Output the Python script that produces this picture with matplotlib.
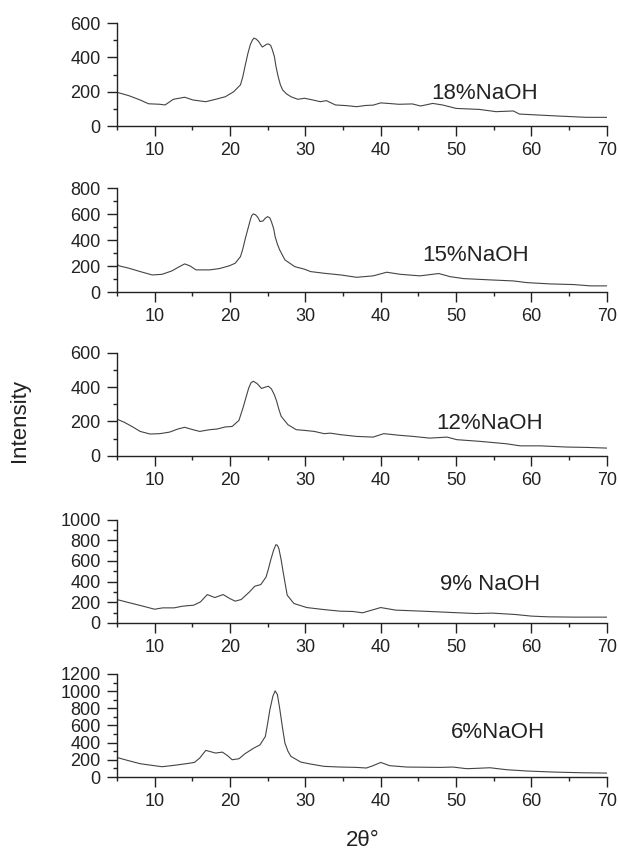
import numpy as np
import matplotlib
matplotlib.use('Agg')
import matplotlib.pyplot as plt
from matplotlib.ticker import MultipleLocator

plt.rcParams['font.family'] = ['Liberation Sans', 'DejaVu Sans']

# XRD patterns (2theta vs intensity), one per NaOH concentration
x18 = [5, 6.6, 8.1, 9.2, 10.7, 11.4, 12.5, 14.0, 15.1, 16.8, 18.1, 19.4, 20.5, 21.4, 21.7, 22.0,
       22.4, 22.7, 23.0, 23.2, 23.5, 23.8, 24.3, 24.9, 25.1, 25.4, 25.6, 25.9, 26.1, 26.4, 26.7,
       27.0, 27.5, 28.1, 29.0, 29.9, 31.0, 32.0, 32.8, 34.0, 35.5, 36.8, 38.0, 39.0, 40.0, 41.0,
       42.4, 44.2, 45.3, 46.9, 48.2, 50.0, 53.1, 55.3, 57.6, 58.4, 61.1, 63.8, 67.3, 70]
y18 = [197, 177, 152, 130, 127, 123, 156, 168, 152, 142, 156, 171, 200, 240, 285, 347,
       425, 473, 502, 512, 506, 493, 460, 477, 478, 470, 448, 405, 350, 288, 240,
       210, 188, 171, 156, 162, 152, 142, 148, 123, 119, 113, 120, 122, 135, 132,
       127, 129, 117, 132, 123, 103, 97, 84, 88, 70, 64, 58, 51, 51]

x15 = [5, 5.3, 6.6, 8.1, 9.7, 11.0, 12.3, 13.3, 14.0, 14.7, 15.5, 17.3, 18.6, 19.9, 20.7, 21.4,
       21.7, 22.0, 22.4, 22.7, 22.9, 23.1, 23.4, 23.7, 24.0, 24.4, 24.7, 25.0, 25.3, 25.5, 25.8,
       26.0, 26.3, 26.6, 27.3, 28.6, 29.9, 30.7, 32.5, 34.7, 36.8, 39.0, 40.8, 42.6, 45.2, 47.7,
       49.2, 51.0, 54.5, 57.6, 59.4, 62.5, 65.6, 67.8, 70]
y15 = [218, 203, 185, 159, 133, 138, 164, 197, 218, 203, 172, 172, 182, 203, 223, 274,
       330, 403, 490, 556, 590, 603, 596, 577, 544, 549, 570, 582, 572, 544, 490,
       428, 370, 326, 249, 197, 177, 159, 146, 133, 115, 126, 154, 138, 126, 144,
       120, 105, 95, 87, 74, 64, 59, 49, 49]

x12 = [5, 6.0, 7.0, 8.1, 9.4, 10.7, 12.0, 13.1, 14.0, 15.1, 16.0, 17.3, 18.3, 19.4, 20.3, 21.2,
       21.8, 22.2, 22.5, 22.8, 23.1, 23.6, 24.2, 24.7, 25.1, 25.5, 25.9, 26.2, 26.5, 26.8, 27.7,
       28.8, 29.9, 31.2, 32.5, 33.3, 34.7, 36.8, 39.0, 40.4, 42.6, 44.3, 46.5, 48.8, 50.1, 53.2,
       56.7, 58.5, 61.2, 64.7, 67.3, 70]
y12 = [214, 195, 171, 142, 127, 129, 138, 156, 166, 152, 142, 152, 156, 168, 171, 206,
       288, 350, 395, 425, 434, 421, 392, 400, 405, 390, 355, 318, 270, 230, 181,
       152, 148, 142, 129, 132, 123, 113, 109, 129, 119, 113, 103, 109, 94, 84,
       70, 58, 58, 51, 49, 45]

x9 = [5, 6.7, 8.5, 10.0, 11.1, 12.6, 13.7, 15.2, 16.1, 17.0, 18.0, 19.1, 20.0, 20.7, 21.5, 22.6,
      23.3, 24.1, 24.8, 25.1, 25.4, 25.8, 26.1, 26.3, 26.5, 26.8, 27.1, 27.6, 28.5, 30.2, 32.4,
      34.6, 36.3, 37.6, 40.0, 42.0, 45.5, 50.4, 52.6, 54.8, 57.8, 60.0, 62.2, 65.8, 70]
y9 = [226, 194, 161, 132, 145, 145, 161, 171, 203, 274, 245, 274, 235, 210, 226, 300,
      355, 371, 445, 520, 606, 705, 758, 752, 719, 610, 477, 268, 187, 148, 129,
      113, 110, 97, 148, 123, 113, 97, 90, 94, 81, 65, 58, 55, 55]

x6 = [5, 6.4, 8.1, 9.4, 11.0, 12.5, 14.2, 15.3, 16.0, 16.8, 18.1, 19.0, 19.7, 20.3, 21.2, 22.0,
      23.1, 24.0, 24.7, 25.0, 25.3, 25.7, 26.0, 26.3, 26.6, 27.0, 27.3, 27.7, 28.1, 29.4, 30.7,
      32.5, 34.7, 36.8, 38.1, 39.0, 40.0, 41.2, 43.5, 47.9, 49.6, 51.4, 52.7, 54.5, 56.7, 59.4,
      62.9, 66.5, 70]
y6 = [228, 194, 155, 139, 120, 135, 155, 170, 221, 310, 279, 290, 248, 201, 213, 271,
      333, 375, 472, 620, 782, 940, 1003, 960, 801, 560, 395, 300, 240, 174, 151,
      124, 116, 112, 105, 132, 170, 132, 116, 112, 116, 97, 101, 108, 85, 70,
      58, 50, 46]

labels = ['18%NaOH', '15%NaOH', '12%NaOH', '9% NaOH', '6%NaOH']
series = [(x18, y18), (x15, y15), (x12, y12), (x9, y9), (x6, y6)]
ymax = [600, 800, 600, 1000, 1200]
label_pos = [(53.8, 0.32), (52.6, 0.35), (54.5, 0.31), (54.5, 0.37), (55.6, 0.43)]

# panel geometry in figure fractions: (bottom, height)
rows = [(0.852, 0.121), (0.657, 0.122), (0.465, 0.121), (0.269, 0.121), (0.088, 0.121)]

fig = plt.figure(figsize=(6.18, 8.52), dpi=100)

for (bot, h), (xs, ys), lab, top, (lx, ly) in zip(rows, series, labels, ymax, label_pos):
    ax = fig.add_axes([0.189, bot, 0.793, h])
    ax.plot(xs, ys, color='#444444', lw=0.8)
    ax.set_xlim(5, 70)
    ax.set_ylim(0, top)
    ax.xaxis.set_major_locator(MultipleLocator(10))
    ax.xaxis.set_minor_locator(MultipleLocator(5))
    ax.yaxis.set_major_locator(MultipleLocator(200))
    ax.yaxis.set_minor_locator(MultipleLocator(100))
    for s in ['top', 'right']:
        ax.spines[s].set_visible(False)
    for s in ['left', 'bottom']:
        ax.spines[s].set_linewidth(1.0)
        ax.spines[s].set_color('#222222')
    ax.tick_params(which='major', length=7, width=1.0, labelsize=13, pad=4.5,
                   color='#222222', labelcolor='#222222')
    ax.tick_params(which='minor', length=3, width=1.0, color='#222222')
    ax.text(lx, ly, lab, transform=ax.get_xaxis_transform(), ha='center', va='center',
            fontsize=16, color='#222222')

fig.text(0.032, 0.506, 'Intensity', rotation=90, ha='center', va='center', fontsize=16,
         color='#222222')
fig.text(0.587, 0.014, '2θ°', ha='center', va='center', fontsize=16, color='#222222')

fig.savefig('out.png', dpi=100)
